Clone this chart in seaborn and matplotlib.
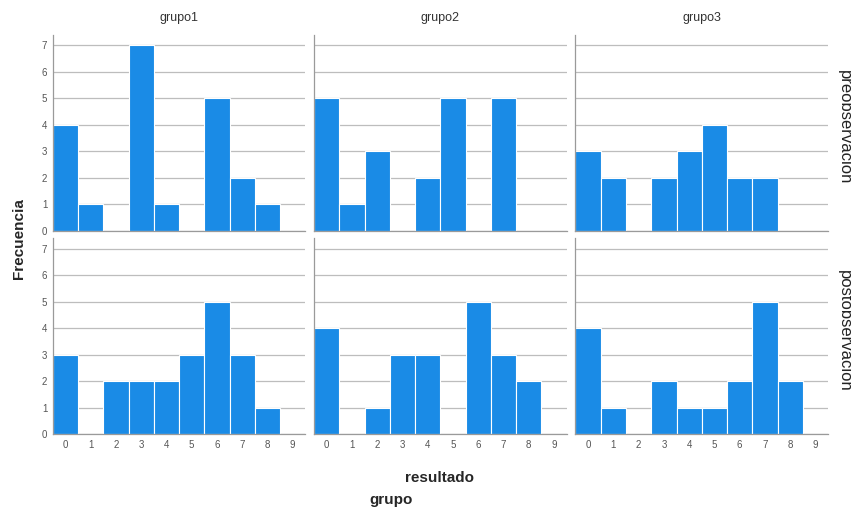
import matplotlib
matplotlib.use('Agg')

import matplotlib.pyplot as plt
import seaborn as sns
import pandas as pd

# datos
resultados = [0, 1, 2, 3, 4, 5, 6, 7, 8, 9]
grupos = ["grupo1", "grupo2", "grupo3"]
momentos = ["preobservación", "postobservación"]

pre_grupo1 = [4, 1, 0, 7, 1, 0, 5, 2, 1, 0]
pre_grupo2 = [5, 1, 3, 0, 2, 5, 0, 5, 0, 0]
pre_grupo3 = [3, 2, 0, 2, 3, 4, 2, 2, 0, 0]
post_grupo1 = [3, 0, 2, 2, 2, 3, 5, 3, 1, 0]
post_grupo2 = [4, 0, 1, 3, 3, 0, 5, 3, 2, 0]
post_grupo3 = [4, 1, 0, 2, 1, 1, 2, 5, 2, 0]

frecuencias = {
    ("preobservación", "grupo1"): pre_grupo1,
    ("preobservación", "grupo2"): pre_grupo2,
    ("preobservación", "grupo3"): pre_grupo3,
    ("postobservación", "grupo1"): post_grupo1,
    ("postobservación", "grupo2"): post_grupo2,
    ("postobservación", "grupo3"): post_grupo3,
}

filas = []
for (momento, grupo), valores in frecuencias.items():
    for r, f in zip(resultados, valores):
        filas.append({"momento": momento, "grupo": grupo, "resultado": r, "frecuencia": f})
df = pd.DataFrame(filas)

sns.set_style("white")
plt.rcParams['font.family'] = ['Liberation Sans', 'DejaVu Sans']

AZUL = "#1a8be6"
GRIS = "#9a9a9a"

g = sns.FacetGrid(df, row="momento", col="grupo", row_order=momentos, col_order=grupos,
                  sharex=True, sharey=True, despine=False)
g.map_dataframe(sns.histplot, x="resultado", weights="frecuencia", discrete=True,
                color=AZUL, alpha=1, edgecolor="white", linewidth=0.8, shrink=1)

fig = g.figure
fig.set_size_inches(8.51, 5.13)
fig.subplots_adjust(left=0.062, right=0.973, bottom=0.154, top=0.932, wspace=0.035, hspace=0.04)

g.set_titles(template="")
for i, ax in enumerate(g.axes.flat):
    ax.set_xlim(-0.5, 9.5)
    ax.set_ylim(0, 7.4)
    ax.set_xticks(resultados)
    ax.set_yticks(range(8))
    ax.set_xlabel("")
    ax.set_ylabel("")
    ax.grid(axis="y", color="#bdbdbd", linewidth=0.9)
    ax.set_axisbelow(True)
    for lado in ["top", "right"]:
        ax.spines[lado].set_visible(False)
    for lado in ["left", "bottom"]:
        ax.spines[lado].set_color(GRIS)
        ax.spines[lado].set_linewidth(0.9)
    ax.tick_params(axis="both", length=0, labelsize=7, colors="#555555", pad=4)

for j, grupo in enumerate(grupos):
    g.axes[0, j].set_title(grupo, fontsize=9, color="#333333", pad=10)

# etiquetas de fila a la derecha (recortadas como en el original)
for i, momento in enumerate(momentos):
    pos = g.axes[i, -1].get_position()
    fig.text(0.984, (pos.y0 + pos.y1) / 2 + 0.01, momento, rotation=270, fontsize=12,
             color="#222222", ha="left", va="center")

fig.text(0.022, 0.535, "Frecuencia", rotation=90, fontsize=11, fontweight="bold",
         ha="center", va="center")
fig.text(0.517, 0.068, "resultado", fontsize=11, fontweight="bold", ha="center", va="center")
fig.text(0.46, 0.025, "grupo", fontsize=11, fontweight="bold", ha="center", va="center")

fig.savefig("out.png", dpi=100)
plt.close()
